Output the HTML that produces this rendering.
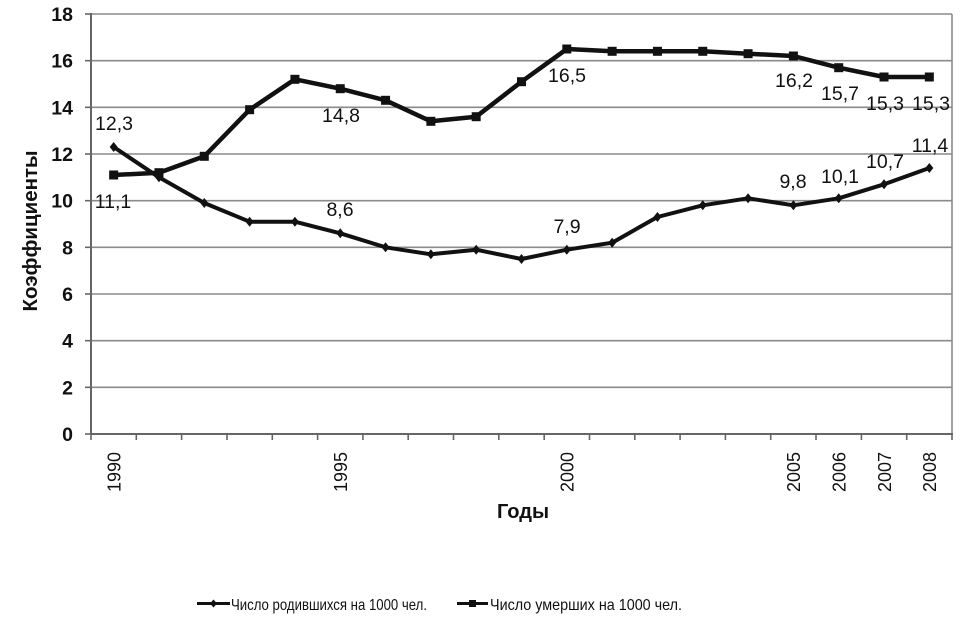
<!DOCTYPE html>
<html>
<head>
<meta charset="utf-8">
<style>
  html,body{margin:0;padding:0;background:#fff;}
  svg{display:block;}
  text{font-family:"Liberation Sans","DejaVu Sans",sans-serif;fill:#111;}
</style>
</head>
<body>
<svg width="974" height="627" viewBox="0 0 974 627" xmlns="http://www.w3.org/2000/svg">
  <rect width="974" height="627" fill="#fff"/>
  <!-- gridlines -->
  <g stroke="#8a8a8a" stroke-width="1.6">
    <line x1="91" y1="14" x2="952" y2="14"/>
    <line x1="91" y1="60.7" x2="952" y2="60.7"/>
    <line x1="91" y1="107.3" x2="952" y2="107.3"/>
    <line x1="91" y1="154" x2="952" y2="154"/>
    <line x1="91" y1="200.7" x2="952" y2="200.7"/>
    <line x1="91" y1="247.3" x2="952" y2="247.3"/>
    <line x1="91" y1="294" x2="952" y2="294"/>
    <line x1="91" y1="340.7" x2="952" y2="340.7"/>
    <line x1="91" y1="387.3" x2="952" y2="387.3"/>
  </g>
  <!-- y ticks -->
  <g stroke="#666" stroke-width="1.6">
    <line x1="85" y1="14" x2="91" y2="14"/>
    <line x1="85" y1="60.7" x2="91" y2="60.7"/>
    <line x1="85" y1="107.3" x2="91" y2="107.3"/>
    <line x1="85" y1="154" x2="91" y2="154"/>
    <line x1="85" y1="200.7" x2="91" y2="200.7"/>
    <line x1="85" y1="247.3" x2="91" y2="247.3"/>
    <line x1="85" y1="294" x2="91" y2="294"/>
    <line x1="85" y1="340.7" x2="91" y2="340.7"/>
    <line x1="85" y1="387.3" x2="91" y2="387.3"/>
    <line x1="85" y1="434" x2="91" y2="434"/>
  </g>
  <!-- right border -->
  <line x1="952" y1="14" x2="952" y2="434" stroke="#8a8a8a" stroke-width="1.6"/>
  <!-- axes -->
  <line x1="91" y1="13" x2="91" y2="435" stroke="#666" stroke-width="2"/>
  <line x1="90" y1="434" x2="953" y2="434" stroke="#666" stroke-width="2"/>
  <!-- x ticks -->
  <g stroke="#666" stroke-width="1.6">
    <line x1="91" y1="434" x2="91" y2="440"/>
    <line x1="136.3" y1="434" x2="136.3" y2="440"/>
    <line x1="181.6" y1="434" x2="181.6" y2="440"/>
    <line x1="227" y1="434" x2="227" y2="440"/>
    <line x1="272.3" y1="434" x2="272.3" y2="440"/>
    <line x1="317.6" y1="434" x2="317.6" y2="440"/>
    <line x1="362.9" y1="434" x2="362.9" y2="440"/>
    <line x1="408.2" y1="434" x2="408.2" y2="440"/>
    <line x1="453.5" y1="434" x2="453.5" y2="440"/>
    <line x1="498.8" y1="434" x2="498.8" y2="440"/>
    <line x1="544.2" y1="434" x2="544.2" y2="440"/>
    <line x1="589.5" y1="434" x2="589.5" y2="440"/>
    <line x1="634.8" y1="434" x2="634.8" y2="440"/>
    <line x1="680.1" y1="434" x2="680.1" y2="440"/>
    <line x1="725.4" y1="434" x2="725.4" y2="440"/>
    <line x1="770.7" y1="434" x2="770.7" y2="440"/>
    <line x1="816" y1="434" x2="816" y2="440"/>
    <line x1="861.4" y1="434" x2="861.4" y2="440"/>
    <line x1="906.7" y1="434" x2="906.7" y2="440"/>
    <line x1="952" y1="434" x2="952" y2="440"/>
  </g>
  <!-- y tick labels -->
  <g font-size="19.5" text-anchor="end" style="font-weight:bold;">
    <text x="73" y="21">18</text>
    <text x="73" y="67.7">16</text>
    <text x="73" y="114.3">14</text>
    <text x="73" y="161">12</text>
    <text x="73" y="207.7">10</text>
    <text x="73" y="254.3">8</text>
    <text x="73" y="301">6</text>
    <text x="73" y="347.7">4</text>
    <text x="73" y="394.3">2</text>
    <text x="73" y="441">0</text>
  </g>
  <!-- x tick labels (rotated) -->
  <g font-size="18" text-anchor="end">
    <text transform="translate(120.5,452) rotate(-90)">1990</text>
    <text transform="translate(347,452) rotate(-90)">1995</text>
    <text transform="translate(573.5,452) rotate(-90)">2000</text>
    <text transform="translate(800,452) rotate(-90)">2005</text>
    <text transform="translate(845.5,452) rotate(-90)">2006</text>
    <text transform="translate(891,452) rotate(-90)">2007</text>
    <text transform="translate(936,452) rotate(-90)">2008</text>
  </g>
  <!-- axis titles -->
  <text transform="translate(37,231) rotate(-90)" font-size="20.5" font-weight="bold" text-anchor="middle">Коэффициенты</text>
  <text x="523" y="518" font-size="20" font-weight="bold" text-anchor="middle">Годы</text>

  <!-- births series -->
  <polyline fill="none" stroke="#111" stroke-width="4" stroke-linejoin="round"
    points="113.66,147 158.97,177.3 204.29,203 249.61,221.7 294.92,221.7 340.24,233.3 385.55,247.3 430.87,254.3 476.18,249.7 521.5,259 566.82,249.7 612.13,242.7 657.45,217 702.76,205.3 748.08,198.3 793.39,205.3 838.71,198.3 884.03,184.3 929.34,168"/>
  <g fill="#111">
    <path d="M113.66,142 l4,5 -4,5 -4,-5z"/>
    <path d="M158.97,172.3 l4,5 -4,5 -4,-5z"/>
    <path d="M204.29,198 l4,5 -4,5 -4,-5z"/>
    <path d="M249.61,216.7 l4,5 -4,5 -4,-5z"/>
    <path d="M294.92,216.7 l4,5 -4,5 -4,-5z"/>
    <path d="M340.24,228.3 l4,5 -4,5 -4,-5z"/>
    <path d="M385.55,242.3 l4,5 -4,5 -4,-5z"/>
    <path d="M430.87,249.3 l4,5 -4,5 -4,-5z"/>
    <path d="M476.18,244.7 l4,5 -4,5 -4,-5z"/>
    <path d="M521.5,254 l4,5 -4,5 -4,-5z"/>
    <path d="M566.82,244.7 l4,5 -4,5 -4,-5z"/>
    <path d="M612.13,237.7 l4,5 -4,5 -4,-5z"/>
    <path d="M657.45,212 l4,5 -4,5 -4,-5z"/>
    <path d="M702.76,200.3 l4,5 -4,5 -4,-5z"/>
    <path d="M748.08,193.3 l4,5 -4,5 -4,-5z"/>
    <path d="M793.39,200.3 l4,5 -4,5 -4,-5z"/>
    <path d="M838.71,193.3 l4,5 -4,5 -4,-5z"/>
    <path d="M884.03,179.3 l4,5 -4,5 -4,-5z"/>
    <path d="M929.34,163 l4,5 -4,5 -4,-5z"/>
  </g>

  <!-- deaths series -->
  <polyline fill="none" stroke="#111" stroke-width="4.5" stroke-linejoin="round"
    points="113.66,175 158.97,172.7 204.29,156.3 249.61,109.7 294.92,79.3 340.24,88.7 385.55,100.3 430.87,121.3 476.18,116.7 521.5,81.7 566.82,49 612.13,51.3 657.45,51.3 702.76,51.3 748.08,53.7 793.39,56 838.71,67.7 884.03,77 929.34,77"/>
  <g fill="#111">
    <rect x="109.16" y="170.5" width="9" height="9"/>
    <rect x="154.47" y="168.2" width="9" height="9"/>
    <rect x="199.79" y="151.8" width="9" height="9"/>
    <rect x="245.11" y="105.2" width="9" height="9"/>
    <rect x="290.42" y="74.8" width="9" height="9"/>
    <rect x="335.74" y="84.2" width="9" height="9"/>
    <rect x="381.05" y="95.8" width="9" height="9"/>
    <rect x="426.37" y="116.8" width="9" height="9"/>
    <rect x="471.68" y="112.2" width="9" height="9"/>
    <rect x="517" y="77.2" width="9" height="9"/>
    <rect x="562.32" y="44.5" width="9" height="9"/>
    <rect x="607.63" y="46.8" width="9" height="9"/>
    <rect x="652.95" y="46.8" width="9" height="9"/>
    <rect x="698.26" y="46.8" width="9" height="9"/>
    <rect x="743.58" y="49.2" width="9" height="9"/>
    <rect x="788.89" y="51.5" width="9" height="9"/>
    <rect x="834.21" y="63.2" width="9" height="9"/>
    <rect x="879.53" y="72.5" width="9" height="9"/>
    <rect x="924.84" y="72.5" width="9" height="9"/>
  </g>

  <!-- data labels -->
  <g font-size="19.5" text-anchor="middle">
    <text x="114" y="130">12,3</text>
    <text x="113" y="208">11,1</text>
    <text x="341" y="122">14,8</text>
    <text x="340" y="216">8,6</text>
    <text x="567" y="82">16,5</text>
    <text x="567" y="233">7,9</text>
    <text x="794" y="87">16,2</text>
    <text x="840" y="100">15,7</text>
    <text x="885" y="110">15,3</text>
    <text x="931" y="110">15,3</text>
    <text x="930" y="152">11,4</text>
    <text x="885" y="168">10,7</text>
    <text x="840" y="183">10,1</text>
    <text x="793" y="188">9,8</text>
  </g>

  <!-- legend -->
  <line x1="197" y1="603.5" x2="230" y2="603.5" stroke="#111" stroke-width="3"/>
  <path d="M213.5,599.5 l3.5,4 -3.5,4 -3.5,-4z" fill="#111"/>
  <text x="231" y="610" font-size="16" textLength="196" lengthAdjust="spacingAndGlyphs">Число родившихся на 1000 чел.</text>
  <line x1="457" y1="603.5" x2="488" y2="603.5" stroke="#111" stroke-width="3"/>
  <rect x="469" y="600" width="7" height="7" fill="#111"/>
  <text x="490" y="610" font-size="16" textLength="192" lengthAdjust="spacingAndGlyphs">Число умерших на 1000 чел.</text>
</svg>
</body>
</html>
